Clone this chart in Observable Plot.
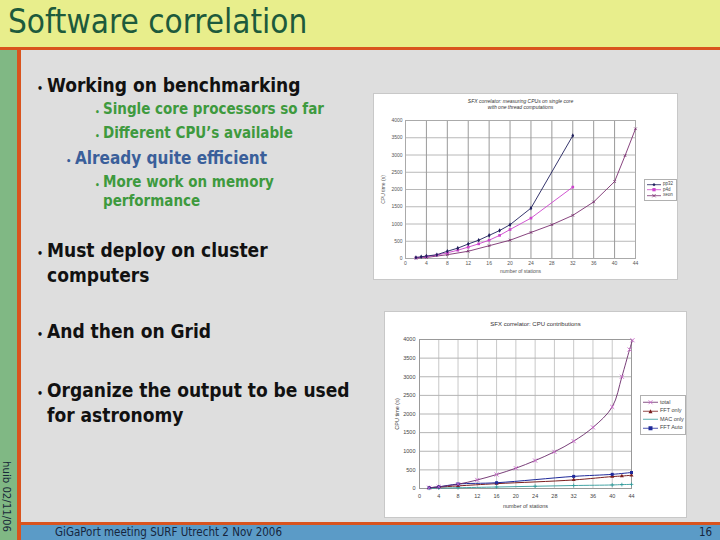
<!DOCTYPE html>
<html><head><meta charset="utf-8">
<script src="https://cdn.jsdelivr.net/npm/d3@7"></script>
<script src="https://cdn.jsdelivr.net/npm/@observablehq/plot@0.6"></script>
<style>
html,body{margin:0;padding:0;}
body{width:720px;height:540px;overflow:hidden;position:relative;background:#dedede;font-family:"DejaVu Sans Condensed","DejaVu Sans",sans-serif;}
.abs{position:absolute;white-space:nowrap;line-height:1;}
.b1{font-weight:bold;font-size:19px;color:#111;}
.b2{font-weight:bold;font-size:15px;color:#3e9a3e;}
.b3{font-weight:bold;font-size:17px;color:#3a5f9a;}
.chart{position:absolute;border:1px solid #c8c8c8;background:#fff;box-sizing:border-box;}
.legend{position:absolute;background:#fff;border:1px solid #b0b0b0;font-family:"Liberation Sans",Arial,sans-serif;color:#444;white-space:nowrap;line-height:1;}
.legend .row{display:flex;align-items:center;overflow:visible;}
.legend span{line-height:1;}
</style></head><body>
<div class="abs" style="left:0;top:0;width:720px;height:47px;background:#e8ee8c;"></div>
<div class="abs" style="left:0;top:47px;width:720px;height:3px;background:#d9541e;"></div>
<div class="abs" style="left:0;top:50px;width:17px;height:490px;background:#80b884;"></div>
<div class="abs" style="left:17px;top:50px;width:4px;height:490px;background:#d9541e;"></div>
<div class="abs" style="left:21px;top:522px;width:699px;height:3px;background:#d9541e;"></div>
<div class="abs" style="left:21px;top:525px;width:699px;height:15px;background:#5b9bc7;"></div>
<div class="abs" style="left:8px;top:5px;font-size:33px;color:#1d5a3c;">Software correlation</div>
<div class="abs" style="left:1px;top:461px;writing-mode:vertical-rl;font-size:11.3px;color:#1a2a3a;">huib 02/11/06</div>
<div class="abs" style="left:55px;top:527px;font-size:11.5px;color:#16263e;">GiGaPort meeting SURF Utrecht 2 Nov 2006</div>
<div class="abs" style="left:699px;top:527px;font-size:11.5px;color:#16263e;">16</div>
<div id="text"></div>
<div id="c1" class="chart" style="left:373px;top:93px;width:305px;height:187px;"></div>
<div id="c2" class="chart" style="left:384px;top:311px;width:303px;height:207px;"></div>
<script>
// ---------- slide text ----------
const bulletLines = [
  {cls:"b1", x:47, base:92, bx:37, text:"Working on benchmarking"},
  {cls:"b2", x:103, base:115, bx:95, text:"Single core processors so far"},
  {cls:"b2", x:103, base:139, bx:95, text:"Different CPU’s available"},
  {cls:"b3", x:75, base:164, bx:66, text:"Already quite efficient"},
  {cls:"b2", x:103, base:188, bx:95, text:"More work on memory"},
  {cls:"b2", x:103, base:207, bx:null, text:"performance"},
  {cls:"b1", x:47, base:257, bx:37, text:"Must deploy on cluster"},
  {cls:"b1", x:47, base:282, bx:null, text:"computers"},
  {cls:"b1", x:47, base:338, bx:37, text:"And then on Grid"},
  {cls:"b1", x:47, base:397, bx:37, text:"Organize the output to be used"},
  {cls:"b1", x:47, base:422, bx:null, text:"for astronomy"}
];

// ---------- chart 1 data ----------
const xTicks = [0,4,8,12,16,20,24,28,32,36,40,44];
const yTicks = [0,500,1000,1500,2000,2500,3000,3500,4000];
const c1Title = ["SFX correlator: measuring CPUs on single core", "with one thread computations"];
const c1Names = ["pp32","p4d","xeon"];
const c1StationsA = [2,3,4,6,8,10,12,14,16,18,20,24,32];
const c1ValuesA   = [30,50,70,110,210,300,420,530,670,810,980,1460,3560];
const c1StationsB = [2,4,6,8,10,12,14,16,18,20,24,32];
const c1ValuesB   = [20,55,100,165,240,330,425,530,670,840,1170,2070];
const c1StationsC = [2,4,8,12,16,20,24,28,32,36,40,42,44];
const c1ValuesC   = [10,30,110,210,370,530,755,980,1250,1640,2230,2980,3760];

// ---------- chart 2 data ----------
const c2Title = "SFX correlator: CPU contributions";
const c2Names = ["total","FFT only","MAC only","FFT Auto"];
const c2StationsTotal = [2,4,8,12,16,20,24,28,32,36,40,42,43.6,44.2];
const c2ValuesTotal   = [20,45,115,230,375,545,750,985,1270,1640,2190,3000,3730,3980];
const c2StationsFFT   = [2,4,8,16,32,40,42,44];
const c2ValuesFFT     = [20,35,70,130,230,320,335,355];
const c2StationsMAC   = [2,4,8,16,24,32,40,42,44];
const c2ValuesMAC     = [5,10,20,40,60,80,95,105,110];
const c2StationsAuto  = [2,4,8,16,32,40,44];
const c2ValuesAuto    = [20,45,120,155,325,380,430];

const c1Colors = ["#1f1f5c","#cc44cc","#7a3070"];
const c2Colors = {line:["#6a2a6a","#7a1f1f","#2f9a9a","#1f2a9a"], mark:["#cc66cc","#7a1f1f","#2f9a9a","#1f2a9a"]};

// slide text rendering
const tdiv = document.getElementById("text");
for (const l of bulletLines) {
  const fs = l.cls === "b1" ? 19 : l.cls === "b3" ? 17 : 15;
  const d = document.createElement("div");
  d.className = "abs " + l.cls;
  d.style.left = l.x + "px";
  d.style.top = (l.base - 0.846 * fs) + "px";
  d.textContent = l.text;
  tdiv.appendChild(d);
  if (l.bx !== null) {
    const bfs = fs * 0.55;
    const b = document.createElement("div");
    b.className = "abs " + l.cls;
    b.style.fontSize = bfs + "px";
    b.style.left = l.bx + "px";
    b.style.top = (l.base - 0.846 * bfs) + "px";
    b.textContent = "•";
    tdiv.appendChild(b);
  }
}

const toRows = (xs, ys, s) => xs.map((x, i) => ({x, y: ys[i], s}));
const fmt = d3.format("d");

// ---------- chart 1 ----------
const a = toRows(c1StationsA, c1ValuesA, c1Names[0]);
const b = toRows(c1StationsB, c1ValuesB, c1Names[1]);
const c = toRows(c1StationsC, c1ValuesC, c1Names[2]);
const chart1 = Plot.plot({
  width: 303, height: 185,
  marginLeft: 31, marginRight: 42, marginTop: 26, marginBottom: 21,
  style: {background: "transparent", fontSize: "5px", fontFamily: "Liberation Sans, Arial, sans-serif", color: "#555"},
  x: {domain: [0, 44], ticks: xTicks, tickSize: 0, tickPadding: 3, tickFormat: fmt, label: "number of stations", labelAnchor: "center", labelOffset: 14, labelArrow: "none"},
  y: {domain: [0, 4000], ticks: yTicks, tickSize: 0, tickPadding: 3, tickFormat: fmt, label: "CPU time (s)", labelAnchor: "center", labelOffset: 24, labelArrow: "none"},
  marks: [
    Plot.gridY(yTicks, {stroke: "#b8b8b8", strokeOpacity: 1}),
    Plot.gridX(xTicks, {stroke: "#9a9a9a", strokeOpacity: 1}),
    Plot.frame({stroke: "#aaa"}),
    Plot.line(c, {x: "x", y: "y", stroke: c1Colors[2], strokeWidth: 0.9}),
    Plot.line(b, {x: "x", y: "y", stroke: c1Colors[1], strokeWidth: 0.9}),
    Plot.line(a, {x: "x", y: "y", stroke: c1Colors[0], strokeWidth: 0.9}),
    Plot.dot(c, {x: "x", y: "y", symbol: "times", r: 1.3, stroke: c1Colors[2], strokeWidth: 0.8}),
    Plot.dot(b, {x: "x", y: "y", symbol: "square", r: 1.5, fill: c1Colors[1]}),
    Plot.dot(a, {x: "x", y: "y", symbol: "diamond", r: 1.4, fill: c1Colors[0]}),
    Plot.text([c1Title[0]], {frameAnchor: "top", dy: -21, fontStyle: "italic", fill: "#333", fontSize: 5}),
    Plot.text([c1Title[1]], {frameAnchor: "top", dy: -15, fontStyle: "italic", fill: "#333", fontSize: 5})
  ]
});
document.getElementById("c1").appendChild(chart1);

// ---------- chart 2 ----------
const t = toRows(c2StationsTotal, c2ValuesTotal, c2Names[0]);
const f = toRows(c2StationsFFT, c2ValuesFFT, c2Names[1]);
const m = toRows(c2StationsMAC, c2ValuesMAC, c2Names[2]);
const u = toRows(c2StationsAuto, c2ValuesAuto, c2Names[3]);
const chart2 = Plot.plot({
  width: 301, height: 205,
  marginLeft: 34, marginRight: 55, marginTop: 27, marginBottom: 29,
  style: {background: "transparent", fontSize: "5.5px", fontFamily: "Liberation Sans, Arial, sans-serif", color: "#444"},
  x: {domain: [0, 44], ticks: xTicks, tickSize: 0, tickPadding: 6, tickFormat: fmt, label: "number of stations", labelAnchor: "center", labelOffset: 19, labelArrow: "none"},
  y: {domain: [0, 4000], ticks: yTicks, tickSize: 0, tickPadding: 4, tickFormat: fmt, label: "CPU time (s)", labelAnchor: "center", labelOffset: 24, labelArrow: "none"},
  marks: [
    Plot.gridX(xTicks, {stroke: "#c8c8c8", strokeOpacity: 1}),
    Plot.gridY(yTicks, {stroke: "#b4b4b4", strokeOpacity: 1}),
    Plot.frame({stroke: "#999"}),
    Plot.line(m, {x: "x", y: "y", stroke: c2Colors.line[2], strokeWidth: 0.9, curve: "catmull-rom"}),
    Plot.line(f, {x: "x", y: "y", stroke: c2Colors.line[1], strokeWidth: 1, curve: "catmull-rom"}),
    Plot.line(u, {x: "x", y: "y", stroke: c2Colors.line[3], strokeWidth: 1, curve: "catmull-rom"}),
    Plot.line(t, {x: "x", y: "y", stroke: c2Colors.line[0], strokeWidth: 0.9, curve: "catmull-rom"}),
    Plot.dot(m, {x: "x", y: "y", symbol: "plus", r: 1.3, stroke: c2Colors.mark[2], strokeWidth: 0.8}),
    Plot.dot(f, {x: "x", y: "y", symbol: "triangle", r: 1.5, fill: c2Colors.mark[1]}),
    Plot.dot(u, {x: "x", y: "y", symbol: "square", r: 1.7, fill: c2Colors.mark[3]}),
    Plot.dot(t, {x: "x", y: "y", symbol: "times", r: 2, stroke: c2Colors.mark[0], strokeWidth: 0.9}),
    Plot.text([c2Title], {frameAnchor: "top", dy: -18, dx: 10, fill: "#333", fontSize: 6})
  ]
});
document.getElementById("c2").appendChild(chart2);

// ---------- legends (HTML) ----------
function swatch(lineColor, markColor, symbol, w, h) {
  const cx = w / 2, cy = h / 2, s = Math.min(h * 0.3, 2);
  let mk = "";
  if (symbol === "diamond") mk = `<path d="M${cx},${cy-s}L${cx+s},${cy}L${cx},${cy+s}L${cx-s},${cy}Z" fill="${markColor}"/>`;
  if (symbol === "square") mk = `<rect x="${cx-s}" y="${cy-s}" width="${2*s}" height="${2*s}" fill="${markColor}"/>`;
  if (symbol === "triangle") mk = `<path d="M${cx},${cy-s}L${cx+s},${cy+s}L${cx-s},${cy+s}Z" fill="${markColor}"/>`;
  if (symbol === "times") mk = `<path d="M${cx-s},${cy-s}L${cx+s},${cy+s}M${cx-s},${cy+s}L${cx+s},${cy-s}" stroke="${markColor}" stroke-width="0.8"/>`;
  return `<svg width="${w}" height="${h}" style="display:block;flex:none"><line x1="0" x2="${w}" y1="${cy}" y2="${cy}" stroke="${lineColor}" stroke-width="0.8"/>${mk}</svg>`;
}
function legend(left, top, width, items, fs, rowH, swW) {
  const d = document.createElement("div");
  d.className = "legend";
  Object.assign(d.style, {left: left + "px", top: top + "px", width: width + "px", fontSize: fs + "px", padding: "2px 1px 2px 2px", boxSizing: "border-box"});
  d.innerHTML = items.map(it => `<div class="row" style="height:${rowH}px">${swatch(it.line, it.mark, it.sym, swW, rowH)}<span style="margin-left:2px">${it.name}</span></div>`).join("");
  document.body.appendChild(d);
}
const c1Syms = ["diamond","square","times"];
legend(644, 179, 33, c1Names.map((n, i) => ({name: n, line: c1Colors[i], mark: c1Colors[i], sym: c1Syms[i]})), 4.5, 5.4, 14);
const c2Syms = ["times","triangle","none","square"];
legend(640, 395, 46, c2Names.map((n, i) => ({name: n, line: c2Colors.line[i], mark: c2Colors.mark[i], sym: c2Syms[i]})), 5.5, 8.5, 15);
</script>
</body></html>
